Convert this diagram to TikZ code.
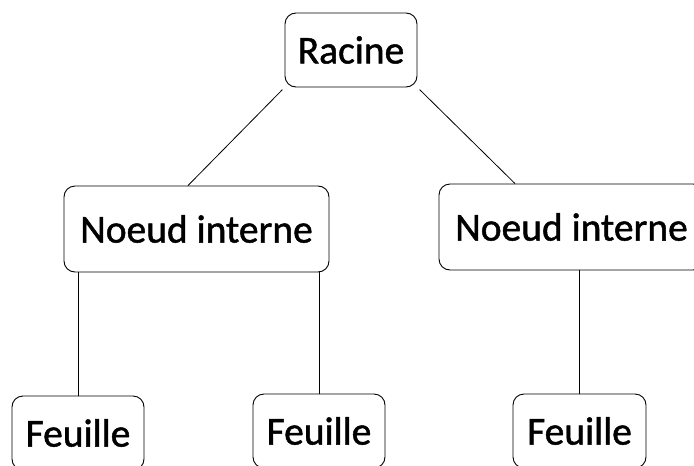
\documentclass[tikz,border=0pt]{standalone}
\usepackage{fontspec}
\setmainfont{Carlito}[FakeBold=1.2]
\begin{document}
\begin{tikzpicture}[x=1pt,y=-1pt,
  box/.style={draw,rounded corners=11pt,line width=0.9pt,inner sep=0pt,
    font=\fontsize{39.5}{44}\selectfont},
  link/.style={line width=0.8pt}]
% frame
\useasboundingbox (0,0) rectangle (694,466);
\clip (0,0) rectangle (694,466);
% nodes
\node[box,minimum width=132pt,minimum height=74pt] (racine) at (351,50) {Racine};
\node[box,minimum width=265pt,minimum height=86pt] (ileft) at (196.5,229) {Noeud interne};
\node[box,minimum width=265pt,minimum height=86pt] (iright) at (571.5,227) {Noeud interne};
\node[box,minimum width=132pt,minimum height=74pt] (fa) at (78,433) {Feuille};
\node[box,minimum width=132pt,minimum height=74pt] (fb) at (319,431) {Feuille};
\node[box,minimum width=133pt,minimum height=74pt] (fc) at (579.5,431) {Feuille};
% links
\draw[link,shorten <=3pt] (racine.south west) -- ([xshift=-8.5pt]ileft.north);
\draw[link,shorten <=3pt] (racine.south east) -- ([xshift=-56.5pt]iright.north);
\draw[link] (fa.north) -- (fa.north |- ileft.south);
\draw[link] (fb.north) -- (fb.north |- ileft.south);
\draw[link] (fc.north) -- (fc.north |- iright.south);
\end{tikzpicture}
\end{document}
